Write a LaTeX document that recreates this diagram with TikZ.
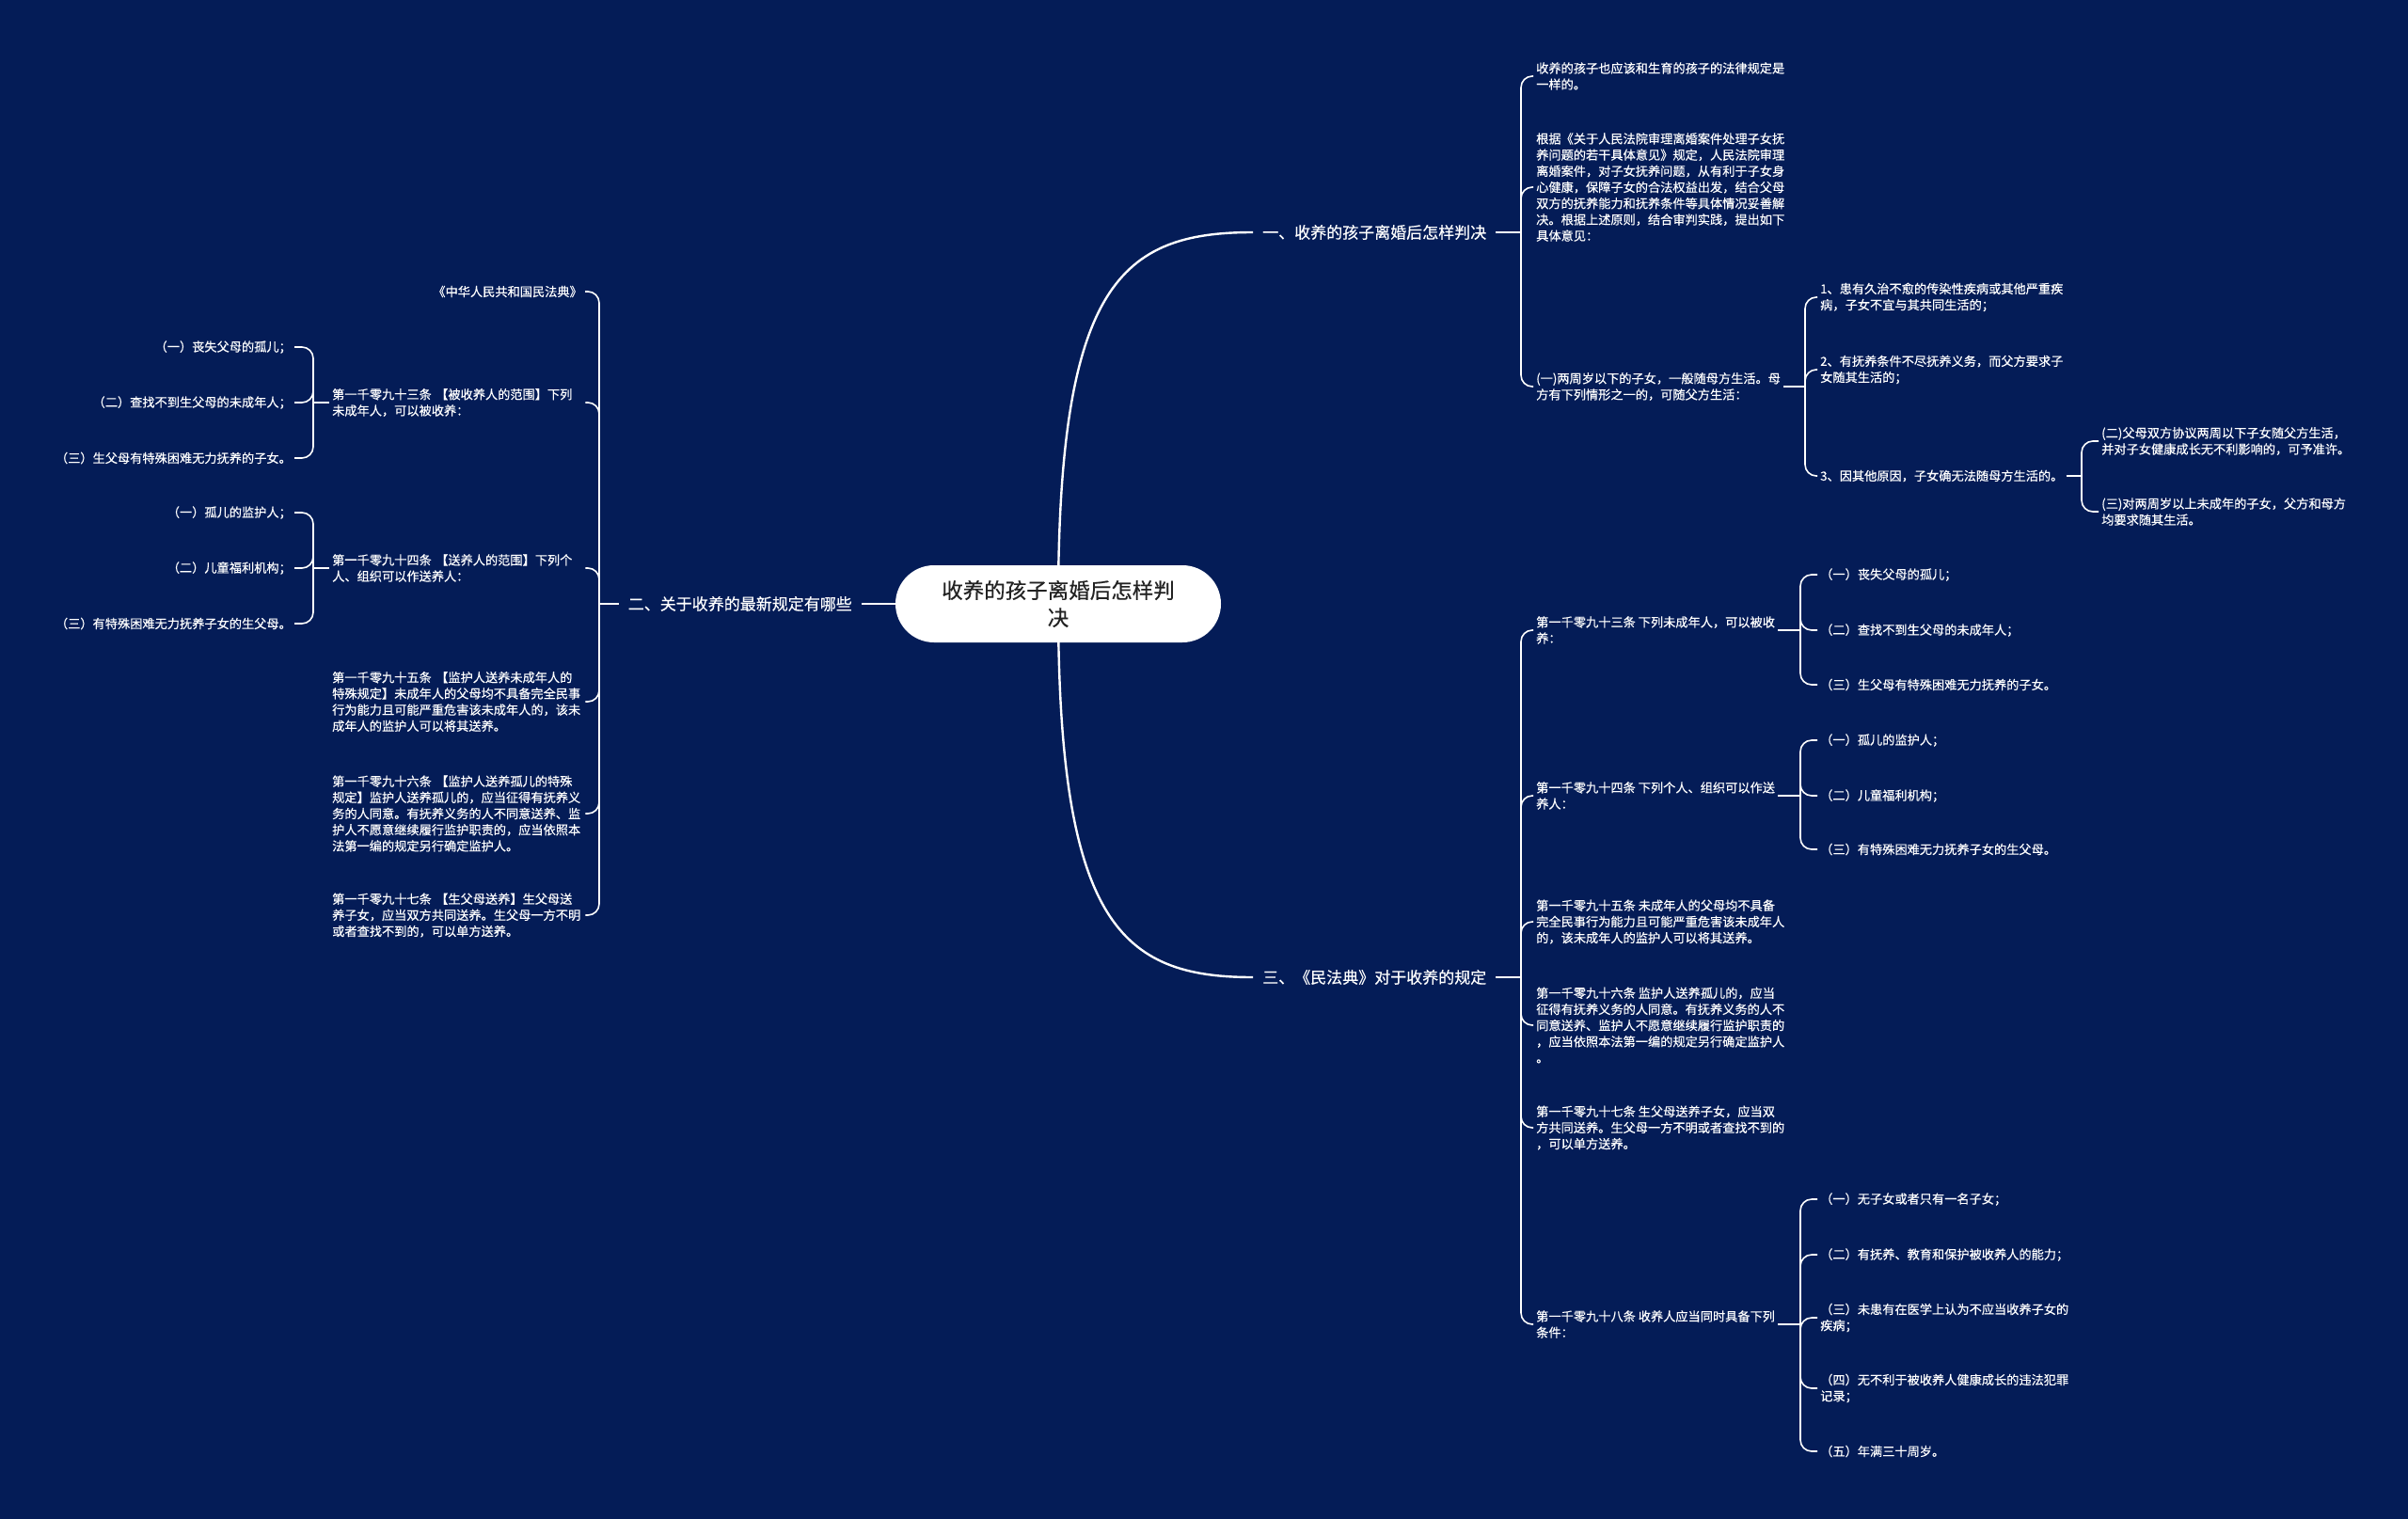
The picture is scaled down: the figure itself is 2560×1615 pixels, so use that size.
\documentclass[tikz,border=0pt]{standalone}
\usepackage{fontspec}
\newfontfamily\cjk[FakeBold=0.35]{Noto Sans CJK SC}
\definecolor{bgc}{RGB}{4,28,87}
\definecolor{ink}{RGB}{34,34,34}
\pgfdeclarelayer{bg}
\pgfsetlayers{bg,main}
\tikzset{
 leaf/.style={font=\cjk\fontsize{13.2bp}{17.2bp}\selectfont, text=white, inner xsep=3bp, inner ysep=1bp},
 R/.style={leaf, anchor=west, align=left},
 L/.style={leaf, anchor=east, align=right},
 LW/.style={leaf, anchor=west, align=left, text width=266bp},
 branch/.style={font=\cjk\fontsize{17bp}{21bp}\selectfont, text=white, inner xsep=10bp, inner ysep=2bp},
 root/.style={font=\cjk\fontsize{22.5bp}{29bp}\selectfont, text=ink, fill=white, rounded corners=41bp, minimum width=346bp, minimum height=82bp, align=center, inner sep=0pt},
 conn/.style={draw=white, line width=1.6bp, rounded corners=12bp},
 trunk/.style={draw=white, line width=2.4bp},
}
\begin{document}
\begin{tikzpicture}[x=1bp,y=-1bp]
\useasboundingbox (0,0) rectangle (2560,1615);
% root and branches
\node[root] (c) at (1125,642) {收养的孩子离婚后怎样判\\决};
\node[branch, anchor=west] (b1) at (1332,247) {一、收养的孩子离婚后怎样判决};
\node[branch, anchor=west] (b3) at (1332,1039) {三、《民法典》对于收养的规定};
\node[branch, anchor=east] (b2) at (916,642) {二、关于收养的最新规定有哪些};
% branch 1
\node[R] (c11) at (1630,81) {收养的孩子也应该和生育的孩子的法律规定是\\一样的。};
\node[R] (c12) at (1630,199) {根据《关于人民法院审理离婚案件处理子女抚\\养问题的若干具体意见》规定，人民法院审理\\离婚案件，对子女抚养问题，从有利于子女身\\心健康，保障子女的合法权益出发，结合父母\\双方的抚养能力和抚养条件等具体情况妥善解\\决。根据上述原则，结合审判实践，提出如下\\具体意见：};
\node[R] (c13) at (1630,411) {(一)两周岁以下的子女，一般随母方生活。母\\方有下列情形之一的，可随父方生活：};
\node[R] (c131) at (1932,316) {1、患有久治不愈的传染性疾病或其他严重疾\\病，子女不宜与其共同生活的；};
\node[R] (c132) at (1932,393) {2、有抚养条件不尽抚养义务，而父方要求子\\女随其生活的；};
\node[R] (c133) at (1932,506) {3、因其他原因，子女确无法随母方生活的。};
\node[R] (c1331) at (2231,469) {(二)父母双方协议两周以下子女随父方生活，\\并对子女健康成长无不利影响的，可予准许。};
\node[R] (c1332) at (2231,544) {(三)对两周岁以上未成年的子女，父方和母方\\均要求随其生活。};
% branch 3
\node[R] (c31) at (1630,670) {第一千零九十三条 下列未成年人，可以被收\\养：};
\node[R] (c32) at (1630,846) {第一千零九十四条 下列个人、组织可以作送\\养人：};
\node[R] (c33) at (1630,980) {第一千零九十五条 未成年人的父母均不具备\\完全民事行为能力且可能严重危害该未成年人\\的，该未成年人的监护人可以将其送养。};
\node[R] (c34) at (1630,1090) {第一千零九十六条 监护人送养孤儿的，应当\\征得有抚养义务的人同意。有抚养义务的人不\\同意送养、监护人不愿意继续履行监护职责的\\，应当依照本法第一编的规定另行确定监护人\\。};
\node[R] (c35) at (1630,1199) {第一千零九十七条 生父母送养子女，应当双\\方共同送养。生父母一方不明或者查找不到的\\，可以单方送养。};
\node[R] (c36) at (1630,1408) {第一千零九十八条 收养人应当同时具备下列\\条件：};
\node[R] (c311) at (1932,611) {（一）丧失父母的孤儿；};
\node[R] (c312) at (1932,670) {（二）查找不到生父母的未成年人；};
\node[R] (c313) at (1932,728) {（三）生父母有特殊困难无力抚养的子女。};
\node[R] (c321) at (1932,787) {（一）孤儿的监护人；};
\node[R] (c322) at (1932,846) {（二）儿童福利机构；};
\node[R] (c323) at (1932,903) {（三）有特殊困难无力抚养子女的生父母。};
\node[R] (c361) at (1932,1275) {（一）无子女或者只有一名子女；};
\node[R] (c362) at (1932,1334) {（二）有抚养、教育和保护被收养人的能力；};
\node[R] (c363) at (1932,1401) {（三）未患有在医学上认为不应当收养子女的\\疾病；};
\node[R] (c364) at (1932,1476) {（四）无不利于被收养人健康成长的违法犯罪\\记录；};
\node[R] (c365) at (1932,1543) {（五）年满三十周岁。};
% branch 2 (left)
\node[L] (c21) at (622,310) {《中华人民共和国民法典》};
\node[LW] (c22) at (350,428) {第一千零九十三条 【被收养人的范围】下列\\未成年人，可以被收养：};
\node[LW] (c23) at (350,604) {第一千零九十四条 【送养人的范围】下列个\\人、组织可以作送养人：};
\node[LW] (c24) at (350,746) {第一千零九十五条 【监护人送养未成年人的\\特殊规定】未成年人的父母均不具备完全民事\\行为能力且可能严重危害该未成年人的，该未\\成年人的监护人可以将其送养。};
\node[LW] (c25) at (350,865) {第一千零九十六条 【监护人送养孤儿的特殊\\规定】监护人送养孤儿的，应当征得有抚养义\\务的人同意。有抚养义务的人不同意送养、监\\护人不愿意继续履行监护职责的，应当依照本\\法第一编的规定另行确定监护人。};
\node[LW] (c26) at (350,973) {第一千零九十七条 【生父母送养】生父母送\\养子女，应当双方共同送养。生父母一方不明\\或者查找不到的，可以单方送养。};
\node[L] (c221) at (313,369) {（一）丧失父母的孤儿；};
\node[L] (c222) at (313,428) {（二）查找不到生父母的未成年人；};
\node[L] (c223) at (313,487) {（三）生父母有特殊困难无力抚养的子女。};
\node[L] (c231) at (313,545) {（一）孤儿的监护人；};
\node[L] (c232) at (313,604) {（二）儿童福利机构；};
\node[L] (c233) at (313,663) {（三）有特殊困难无力抚养子女的生父母。};
% junctions
\coordinate (j1) at (1617,247);
\coordinate (j13) at (1919,411);
\coordinate (j133) at (2213,506);
\coordinate (j3) at (1617,1039);
\coordinate (j31) at (1914,670);
\coordinate (j32) at (1914,846);
\coordinate (j36) at (1914,1408);
\coordinate (j2) at (637,642);
\coordinate (j22) at (333,428);
\coordinate (j23) at (333,604);
\begin{pgfonlayer}{bg}
\fill[bgc] (0,0) rectangle (2560,1615);
\draw[trunk] (c.center) .. controls +(0,-340) and +(-140,0) .. (b1.west);
\draw[trunk] (c.center) .. controls +(0,340) and +(-140,0) .. (b3.west);
\draw[trunk] (c.center) -- (b2.east);
% right side
\draw[conn] (b1.east) -- (j1);
\foreach \n in {c11,c12,c13} \draw[conn] (j1) |- (\n.west);
\draw[conn] (c13.east) -- (j13);
\foreach \n in {c131,c132,c133} \draw[conn] (j13) |- (\n.west);
\draw[conn] (c133.east) -- (j133);
\foreach \n in {c1331,c1332} \draw[conn] (j133) |- (\n.west);
\draw[conn] (b3.east) -- (j3);
\foreach \n in {c31,c32,c33,c34,c35,c36} \draw[conn] (j3) |- (\n.west);
\draw[conn] (c31.east) -- (j31);
\foreach \n in {c311,c312,c313} \draw[conn] (j31) |- (\n.west);
\draw[conn] (c32.east) -- (j32);
\foreach \n in {c321,c322,c323} \draw[conn] (j32) |- (\n.west);
\draw[conn] (c36.east) -- (j36);
\foreach \n in {c361,c362,c363,c364,c365} \draw[conn] (j36) |- (\n.west);
% left side
\draw[conn] (b2.west) -- (j2);
\foreach \n in {c21,c22,c23,c24,c25,c26} \draw[conn] (j2) |- (\n.east);
\draw[conn] (c22.west) -- (j22);
\foreach \n in {c221,c222,c223} \draw[conn] (j22) |- (\n.east);
\draw[conn] (c23.west) -- (j23);
\foreach \n in {c231,c232,c233} \draw[conn] (j23) |- (\n.east);
\end{pgfonlayer}
\end{tikzpicture}
\end{document}
